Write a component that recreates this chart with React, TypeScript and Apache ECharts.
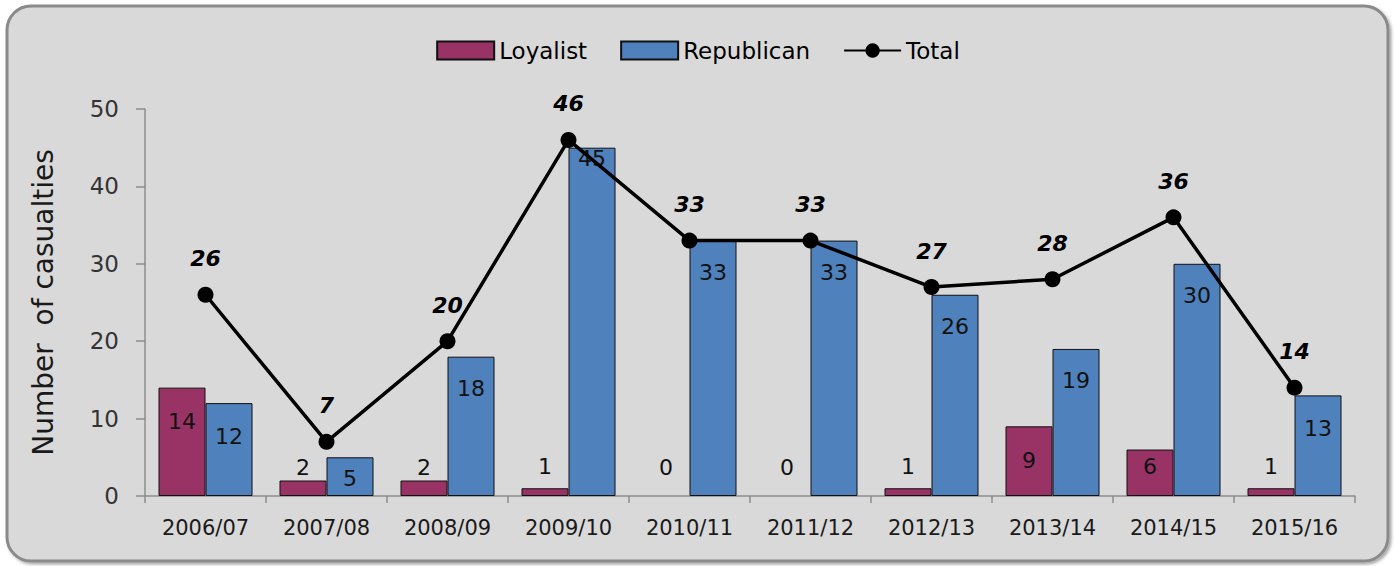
import React, { useEffect, useRef } from "react";
import * as echarts from "echarts";

const categories = ["2006/07", "2007/08", "2008/09", "2009/10", "2010/11", "2011/12", "2012/13", "2013/14", "2014/15", "2015/16"];
const loyalist = [14, 2, 2, 1, 0, 0, 1, 9, 6, 1];
const republican = [12, 5, 18, 45, 33, 33, 26, 19, 30, 13];
const total = [26, 7, 20, 46, 33, 33, 27, 28, 36, 14];
const yTicks = { min: 0, max: 50, interval: 10 };

// label placement (style only)
const loyalistLabel: [string, number][] = [
  ["insideTop", 23], ["top", 2], ["top", 2], ["top", 11], ["top", 18],
  ["top", 18], ["top", 11], ["insideTop", 23], ["insideTop", 6], ["top", 11],
];
const republicanLabel: [string, number][] = [
  ["insideTop", 22], ["insideTop", 10], ["insideTop", 21], ["insideTop", 0], ["insideTop", 21],
  ["insideTop", 21], ["insideTop", 21], ["insideTop", 21], ["insideTop", 21], ["insideTop", 22],
];

const FONT = "DejaVu Sans";

export default function App() {
  const ref = useRef<HTMLDivElement>(null);
  useEffect(() => {
    if (!ref.current) return;
    const chart = echarts.init(ref.current, null, { renderer: "svg" });
    const barLabelStyle = { show: true, fontFamily: FONT, fontSize: 22, color: "#111" };
    const barItem = (v: number, color: string, lab: [string, number]) => ({
      value: v,
      itemStyle: { color, borderColor: "#111", borderWidth: v === 0 ? 0 : 1 },
      label: { ...barLabelStyle, position: lab[0], distance: lab[1] },
    });
    chart.setOption({
      animation: false,
      backgroundColor: "#ffffff",
      graphic: [
        {
          type: "rect",
          z: -100,
          silent: true,
          shape: { x: 7, y: 6, width: 1381, height: 555, r: 24 },
          style: {
            fill: "#D9D9D9",
            stroke: "#8a8a8a",
            lineWidth: 3,
            shadowBlur: 3,
            shadowOffsetX: 2,
            shadowOffsetY: 2,
            shadowColor: "rgba(0,0,0,0.35)",
          },
        },
      ],
      legend: {
        top: 34,
        left: "center",
        itemWidth: 57,
        itemHeight: 18,
        itemGap: 33,
        textStyle: { fontFamily: FONT, fontSize: 23, color: "#000" },
        data: [
          { name: "Loyalist", icon: "rect" },
          { name: "Republican", icon: "rect" },
          { name: "Total" },
        ],
      },
      grid: { left: 145, right: 41, top: 109, bottom: 70, containLabel: false },
      xAxis: {
        type: "category",
        data: categories,
        axisLine: { lineStyle: { color: "#8c8c8c", width: 1.5 } },
        axisTick: { show: true, length: 7, alignWithLabel: false, lineStyle: { color: "#8c8c8c", width: 1.5 } },
        axisLabel: { fontFamily: FONT, fontSize: 21, color: "#1a1a1a", margin: 21 },
        splitLine: { show: false },
      },
      yAxis: {
        type: "value",
        min: yTicks.min,
        max: yTicks.max,
        interval: yTicks.interval,
        name: "Number  of casualties",
        nameLocation: "middle",
        nameGap: 88,
        nameRotate: 90,
        nameTextStyle: { fontFamily: FONT, fontSize: 28, color: "#1a1a1a" },
        axisLine: { show: true, lineStyle: { color: "#8c8c8c", width: 1.5 } },
        axisTick: { show: true, length: 9, inside: false, lineStyle: { color: "#8c8c8c", width: 1.5 } },
        axisLabel: { fontFamily: FONT, fontSize: 23, color: "#333", margin: 26 },
        splitLine: { show: false },
      },
      series: [
        {
          name: "Loyalist",
          type: "bar",
          barWidth: 47,
          barGap: "0%",
          itemStyle: { color: "#993366", borderColor: "#111", borderWidth: 1 },
          data: loyalist.map((v, i) => barItem(v, "#993366", loyalistLabel[i])),
          z: 2,
        },
        {
          name: "Republican",
          type: "bar",
          barWidth: 47,
          barGap: "0%",
          itemStyle: { color: "#4F81BD", borderColor: "#111", borderWidth: 1 },
          data: republican.map((v, i) => barItem(v, "#4F81BD", republicanLabel[i])),
          z: 2,
        },
        {
          name: "Total",
          type: "line",
          data: total,
          symbol: "circle",
          symbolSize: 16,
          lineStyle: { color: "#000", width: 3.5 },
          itemStyle: { color: "#000" },
          label: {
            show: true,
            position: "top",
            distance: 17,
            fontFamily: FONT,
            fontSize: 22,
            fontStyle: "italic",
            fontWeight: "bold",
            color: "#000",
          },
          z: 5,
        },
      ],
    });
    return () => chart.dispose();
  }, []);
  return (
    <div
      ref={ref}
      style={{ position: "absolute", left: 0, top: 0, width: 1396, height: 566 }}
    />
  );
}
